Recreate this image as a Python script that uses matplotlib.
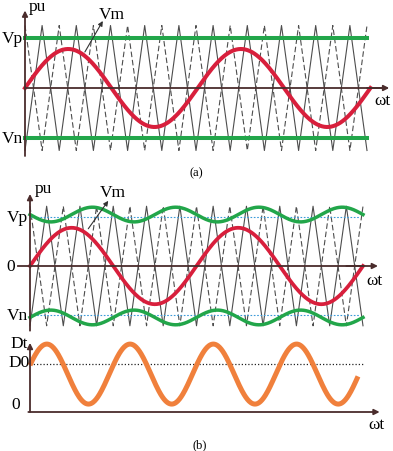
import numpy as np
import matplotlib
matplotlib.use('Agg')
import matplotlib.pyplot as plt

plt.rcParams['font.family'] = ['Liberation Serif', 'DejaVu Serif']

# --- datos (unidades: Vp = 1, eje x en ciclos de Vm) ---
# portadoras triangulares: vértices (10 periodos en 2 ciclos de Vm)
carrier_t = [0.0, 0.1, 0.2, 0.3, 0.4, 0.5, 0.6, 0.7, 0.8, 0.9, 1.0,
             1.1, 1.2, 1.3, 1.4, 1.5, 1.6, 1.7, 1.8, 1.9, 2.0]
carrier_sign = [-1, 1, -1, 1, -1, 1, -1, 1, -1, 1, -1,
                1, -1, 1, -1, 1, -1, 1, -1, 1, -1]
carrier_amp = [1.25, 1.22]      # (a), (b)

# moduladora Vm
vm_amp = [0.78, 0.78]
vm_cycles = 2

# límites Vp / Vn
vp_level = 1.0
vn_level = -1.0
# (b): límites variables
band_offset = 0.05
band_amp = 0.15
band_cycles = 4

# Dt
dt_center = 0.79
dt_amp = 0.625
dt_phase = 0.3
dt_cycles = 4
dt_end = 1.97
d0_level = 1.0

# colores
c_axis = '#4a2c2c'
c_tri = '#4d4d4d'
c_green = '#22a64a'
c_red = '#d81f3c'
c_blue = '#3b9ad9'
c_orange = '#f0803c'

W, H = 393, 452
fig = plt.figure(figsize=(W / 100, H / 100), dpi=100)


def make_axes(row0, row1, x0_px, x_scale, y0_row, y_scale):
    ax = fig.add_axes([0, 1 - row1 / H, 1, (row1 - row0) / H])
    ax.set_xlim(-x0_px / x_scale, (W - x0_px) / x_scale)
    ax.set_ylim((y0_row - row1) / y_scale, (y0_row - row0) / y_scale)
    ax.axis('off')
    return ax


def arrow(ax, p0, p1, lw=1.3, ms=8, color=c_axis):
    ax.annotate('', xy=p1, xytext=p0,
                arrowprops=dict(arrowstyle='-|>', color=color, lw=lw,
                                mutation_scale=ms, shrinkA=0, shrinkB=0),
                zorder=6)


t = np.linspace(0, 2, 600)
tri_t = np.array(carrier_t)
tri_s = np.array(carrier_sign)
fs = 12.5

# --- (a) ---
ax_a = make_axes(0, 180, 25, 171, 89, 50)
A = carrier_amp[0]
ax_a.plot(tri_t, tri_s * A, color=c_tri, lw=0.8, zorder=1)
ax_a.plot(tri_t, -tri_s * A, color=c_tri, lw=0.8, ls=(0, (5, 2.5)), zorder=1)
ax_a.plot([0, 2], [vp_level, vp_level], color=c_green, lw=2.9, zorder=3)
ax_a.plot([0, 2], [vn_level, vn_level], color=c_green, lw=2.9, zorder=3)
ax_a.plot(t * 1.01, vm_amp[0] * np.sin(2 * np.pi * t), color=c_red, lw=2.9, zorder=4)
ax_a.plot([0, 2.1], [0, 0], color=c_axis, lw=1.3, zorder=5)
arrow(ax_a, (2.0, 0), (2.13, 0))
arrow(ax_a, (0, -1.36), (0, 1.55))
arrow(ax_a, (0.35, 0.72), (0.455, 1.34), lw=0.8, ms=7, color='#333333')
ax_a.text(0.02, 1.64, 'pu', fontsize=fs, ha='left', va='center')
ax_a.text(0.51, 1.47, 'Vm', fontsize=fs, ha='center', va='center')
ax_a.text(-0.01, vp_level, 'Vp', fontsize=fs, ha='right', va='center')
ax_a.text(-0.01, vn_level, 'Vn', fontsize=fs, ha='right', va='center')
ax_a.text(2.09, -0.25, 'ωt', fontsize=fs, ha='center', va='center')
ax_a.text(1.0, -1.68, '(a)', fontsize=9, ha='center', va='center')

# --- (b) ---
ax_b = make_axes(180, 335, 30, 166.5, 267, 49)
A = carrier_amp[1]
ax_b.plot(tri_t, tri_s * A, color=c_tri, lw=0.8, zorder=1)
ax_b.plot(tri_t, -tri_s * A, color=c_tri, lw=0.8, ls=(0, (5, 2.5)), zorder=1)
ax_b.plot([0, 1.98], [vp_level, vp_level], color=c_blue, lw=0.8, ls=(0, (1.5, 1.5)), zorder=2)
ax_b.plot([0, 1.98], [vn_level, vn_level], color=c_blue, lw=0.8, ls=(0, (1.5, 1.5)), zorder=2)
band = band_amp * np.sin(2 * np.pi * band_cycles / 2 * t)
ax_b.plot(t, vp_level + band_offset - band, color=c_green, lw=2.5, zorder=3)
ax_b.plot(t, vn_level - band_offset + band, color=c_green, lw=2.5, zorder=3)
ax_b.plot(t, vm_amp[1] * np.sin(2 * np.pi * vm_cycles / 2 * t), color=c_red, lw=2.7, zorder=4)
ax_b.plot([-0.07, 2.0], [0, 0], color=c_axis, lw=1.3, zorder=5)
arrow(ax_b, (1.9, 0), (2.09, 0))
arrow(ax_b, (0, -1.32), (0, 1.47))
arrow(ax_b, (0.35, 0.76), (0.47, 1.33), lw=0.8, ms=7, color='#333333')
ax_b.text(0.03, 1.6, 'pu', fontsize=fs, ha='left', va='center')
ax_b.text(0.5, 1.5, 'Vm', fontsize=fs, ha='center', va='center')
ax_b.text(-0.01, vp_level, 'Vp', fontsize=fs, ha='right', va='center')
ax_b.text(-0.09, 0, '0', fontsize=fs, ha='right', va='center')
ax_b.text(-0.01, vn_level, 'Vn', fontsize=fs, ha='right', va='center')
ax_b.text(2.07, -0.29, 'ωt', fontsize=fs, ha='center', va='center')

# --- Dt ---
ax_d = make_axes(335, 452, 30, 166.5, 413, 48)
td = np.linspace(0, dt_end, 600)
ax_d.plot([0, 2.0], [d0_level, d0_level], color='#222222', lw=0.9, ls=(0, (1, 1.6)), zorder=2)
ax_d.plot(td, dt_center + dt_amp * np.sin(2 * np.pi * dt_cycles / 2 * td + dt_phase),
          color=c_orange, lw=3.6, solid_capstyle='butt', zorder=3)
arrow(ax_d, (-0.01, 0), (2.1, 0))
arrow(ax_d, (0, 0), (0, 1.44))
ax_d.text(-0.01, 1.44, 'Dt', fontsize=fs, ha='right', va='center')
ax_d.text(0.0, d0_level + 0.04, 'D0', fontsize=fs, ha='right', va='center')
ax_d.text(-0.06, 0.17, '0', fontsize=fs, ha='right', va='center')
ax_d.text(2.08, -0.26, 'ωt', fontsize=fs, ha='center', va='center')
ax_d.text(1.02, -0.67, '(b)', fontsize=9, ha='center', va='center')

fig.savefig('out.png', dpi=100, facecolor='white')
